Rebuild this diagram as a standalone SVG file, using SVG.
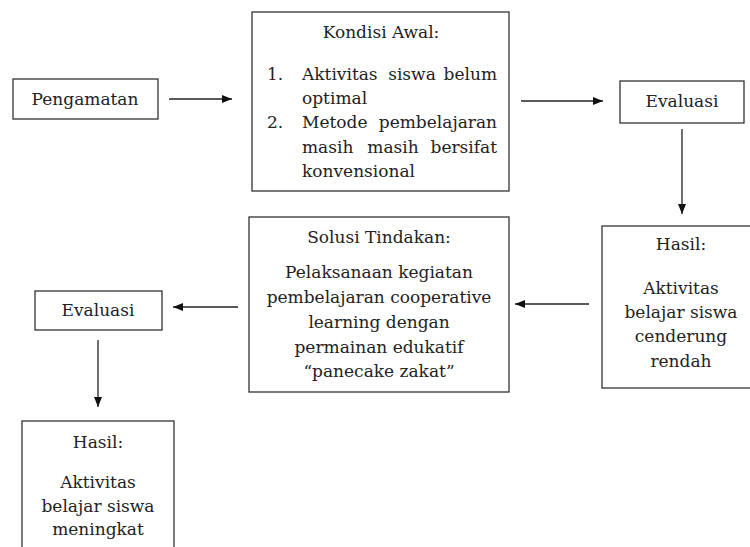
<svg xmlns="http://www.w3.org/2000/svg" width="750" height="547" viewBox="0 0 750 547">
<defs>
<marker id="ah" markerWidth="10" markerHeight="8" refX="10" refY="4" orient="auto" markerUnits="userSpaceOnUse">
<path d="M0,0 L10,4 L0,8 Z" fill="#111"/>
</marker>
<style>
.box{fill:#fff;stroke:#333;stroke-width:1.3}
text{font-family:"DejaVu Serif","Liberation Serif",serif;font-size:17px;fill:#222}
.c{text-anchor:middle}
.e{text-anchor:end}
.conn line{stroke:#222;stroke-width:1.3;marker-end:url(#ah)}
</style>
</defs>
<rect width="750" height="547" fill="#fff"/>
<g id="pengamatan">
<rect class="box" x="13" y="79" width="145" height="40"/>
<text class="c" x="85" y="105">Pengamatan</text>
</g>
<g id="kondisi-awal">
<rect class="box" x="252" y="12" width="257" height="179"/>
<text class="c" x="381" y="38">Kondisi Awal:</text>
<text x="267" y="80">1.</text>
<text x="302" y="80">Aktivitas</text>
<text class="c" x="412" y="80">siswa</text>
<text class="e" x="497" y="80">belum</text>
<text x="302" y="104">optimal</text>
<text x="267" y="128">2.</text>
<text x="302" y="128">Metode</text>
<text class="e" x="497" y="128">pembelajaran</text>
<text x="302" y="153">masih</text>
<text class="c" x="393" y="153">masih</text>
<text class="e" x="497" y="153">bersifat</text>
<text x="302" y="177">konvensional</text>
</g>
<g id="evaluasi-1">
<rect class="box" x="620" y="81" width="124" height="42"/>
<text class="c" x="682" y="107">Evaluasi</text>
</g>
<g id="hasil-1">
<rect class="box" x="602" y="226" width="150" height="162"/>
<text class="c" x="681" y="250">Hasil:</text>
<text class="c" x="681" y="294">Aktivitas</text>
<text class="c" x="681" y="318">belajar siswa</text>
<text class="c" x="681" y="342">cenderung</text>
<text class="c" x="681" y="367">rendah</text>
</g>
<g id="solusi">
<rect class="box" x="249" y="217" width="260" height="175"/>
<text class="c" x="379" y="243">Solusi Tindakan:</text>
<text class="c" x="379" y="278">Pelaksanaan kegiatan</text>
<text class="c" x="379" y="303">pembelajaran cooperative</text>
<text class="c" x="379" y="328">learning dengan</text>
<text class="c" x="379" y="353">permainan edukatif</text>
<text class="c" x="379" y="377">“panecake zakat”</text>
</g>
<g id="evaluasi-2">
<rect class="box" x="35" y="291" width="127" height="39"/>
<text class="c" x="98" y="316">Evaluasi</text>
</g>
<g id="hasil-2">
<rect class="box" x="22" y="421" width="152" height="140"/>
<text class="c" x="98" y="448">Hasil:</text>
<text class="c" x="98" y="488">Aktivitas</text>
<text class="c" x="98" y="512">belajar siswa</text>
<text class="c" x="98" y="535">meningkat</text>
</g>
<g id="connectors" class="conn">
<line x1="169" y1="99" x2="232" y2="99"/>
<line x1="521" y1="101" x2="603" y2="101"/>
<line x1="682" y1="129" x2="682" y2="214"/>
<line x1="589" y1="304" x2="515" y2="304"/>
<line x1="238" y1="307" x2="173" y2="307"/>
<line x1="98" y1="340" x2="98" y2="407"/>
</g>
</svg>
